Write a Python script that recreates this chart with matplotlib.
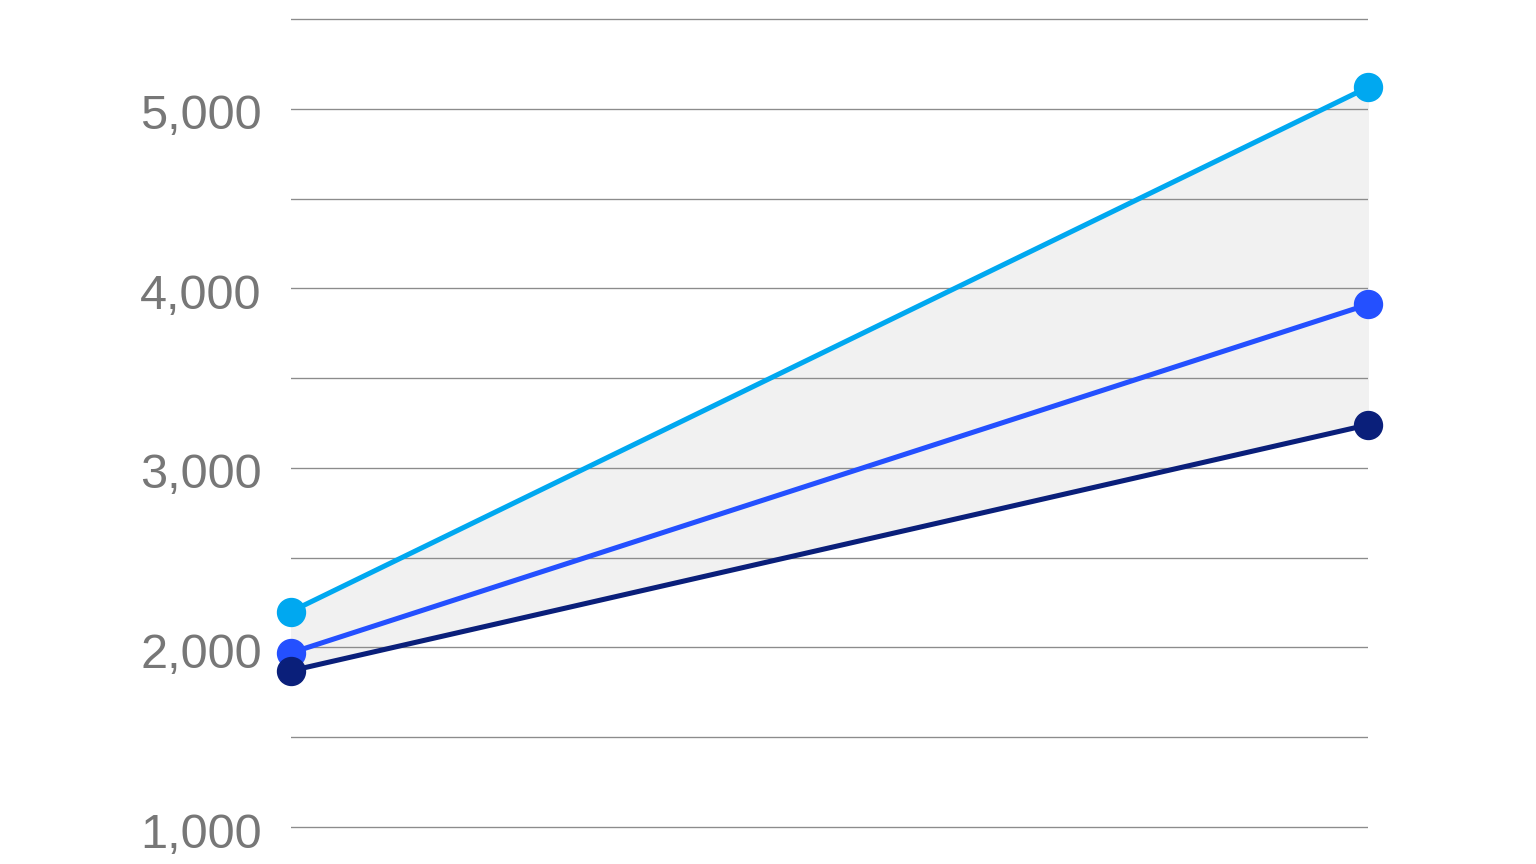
import numpy as np
import matplotlib.pyplot as plt
import matplotlib.transforms as mtransforms

plt.rcParams['font.family'] = ['Liberation Sans', 'DejaVu Sans']

# Werte
x_points = [0, 1]
top_series = [2200, 5120]
mid_series = [1970, 3910]
low_series = [1870, 3240]
y_ticks = [1000, 2000, 3000, 4000, 5000]
y_tick_labels = ['1,000', '2,000', '3,000', '4,000', '5,000']

fig = plt.figure(figsize=(16, 9), dpi=96)
ax = fig.add_axes([291 / 1536, 28 / 864, 1077 / 1536, 826 / 864])

ax.fill_between(x_points, low_series, top_series, color='#f1f1f1', zorder=1)

for y in np.arange(1000, 5501, 500):
    ax.axhline(y, color='#8c8c8c', linewidth=1.0, zorder=2)

ax.plot(x_points, top_series, color='#00a8f0', linewidth=3.8, marker='o',
        markersize=21, zorder=3, clip_on=False)
ax.plot(x_points, mid_series, color='#2450ff', linewidth=3.8, marker='o',
        markersize=21, zorder=4, clip_on=False)
ax.plot(x_points, low_series, color='#0a1f7a', linewidth=3.8, marker='o',
        markersize=21, zorder=5, clip_on=False)

ax.set_xlim(0, 1)
ax.set_ylim(950, 5550)
ax.set_xticks([])
ax.set_yticks(y_ticks)
ax.set_yticklabels(y_tick_labels)
ax.tick_params(axis='y', length=0, pad=22, labelsize=36.5, labelcolor='#777777')

# Beschriftungen etwas nach unten schieben
shift = mtransforms.ScaledTranslation(0, -3 / 96, fig.dpi_scale_trans)
for label in ax.get_yticklabels():
    label.set_transform(label.get_transform() + shift)

for s in ax.spines.values():
    s.set_visible(False)

fig.savefig('out.png', dpi=96)
